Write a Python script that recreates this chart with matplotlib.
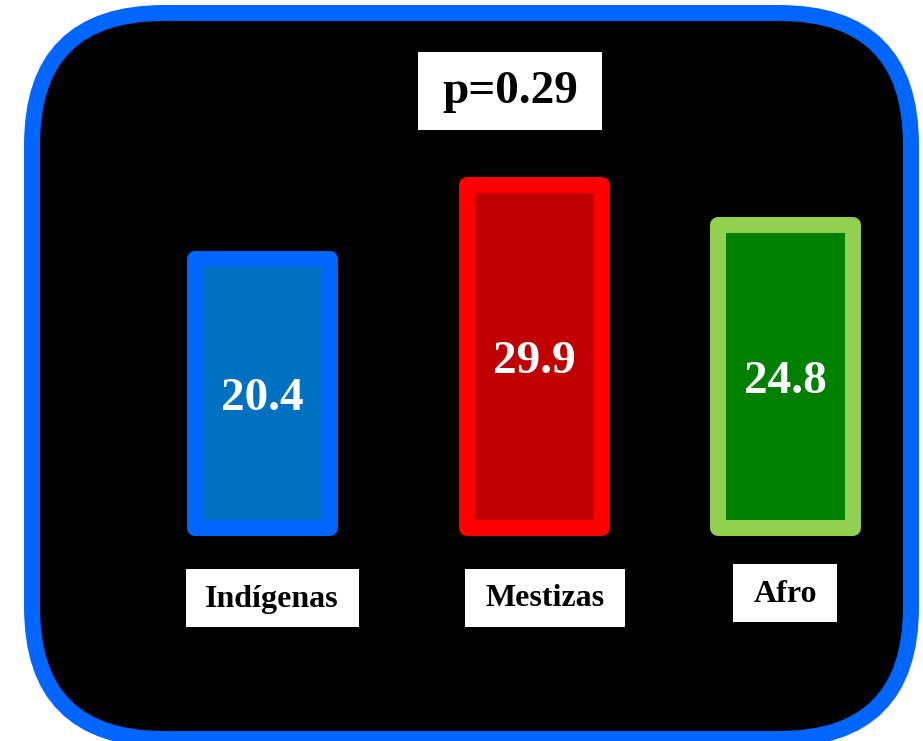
import matplotlib
matplotlib.use("Agg")
import matplotlib.pyplot as plt
from matplotlib.patches import FancyBboxPatch, Rectangle

categories = ["Indígenas", "Mestizas", "Afro"]
values = [20.4, 29.9, 24.8]
p_label = "p=0.29"

edge_colors = ["#0066FF", "#FF0000", "#92D050"]
face_colors = ["#0070C0", "#C00000", "#008000"]
xpos = [0, 1.04, 2]
baseline = -14.1

plt.rcParams["font.family"] = ["Liberation Serif", "DejaVu Serif"]
plt.rcParams["font.weight"] = "bold"

W, H = 923, 741
fig = plt.figure(figsize=(W / 100, H / 100), dpi=100)
fig.patch.set_facecolor("white")

bg = fig.add_axes([0, 0, 1, 1])
bg.set_xlim(0, W)
bg.set_ylim(H, 0)
bg.axis("off")
frame = FancyBboxPatch((32, 13), 879, 726, boxstyle="round,pad=0,rounding_size=132",
                       fc="black", ec="#0066FF", lw=11.5)
bg.add_patch(frame)

ax = fig.add_axes([100 / W, (H - 528) / H, 800 / W, 428 / H])
ax.set_facecolor("none")
ax.set_xlim(-0.622, 2.44)
ax.set_ylim(baseline, baseline + 428 / 7.79)
ax.axis("off")

heights = [v - baseline for v in values]
bars = ax.bar(xpos, heights, bottom=baseline, width=0.517, color=face_colors,
              edgecolor=edge_colors, linewidth=11.5, clip_on=False)
for b in bars:
    b.set_joinstyle("round")

for x, v in zip(xpos, values):
    ax.text(x, baseline + (v - baseline) / 2 - 0.7, f"{v}", ha="center", va="center",
            color="white", fontsize=34, fontweight="bold")

# label boxes (center x, center y, width, height) in pixels
label_boxes = [(272, 598, 173, 58), (545, 598, 160, 58), (785, 593, 104, 58)]
for c, (cx, cy, bw, bh) in zip(categories, label_boxes):
    bg.add_patch(Rectangle((cx - bw / 2, cy - bh / 2), bw, bh, fc="white", ec="none"))
    bg.text(cx, cy + 1, c, ha="center", va="center", color="black", fontsize=23,
            fontweight="bold")

bg.add_patch(Rectangle((418, 52), 184, 78, fc="white", ec="none"))
bg.text(510, 92, p_label, ha="center", va="center", color="black", fontsize=34,
        fontweight="bold")

fig.savefig("out.png", dpi=100)
